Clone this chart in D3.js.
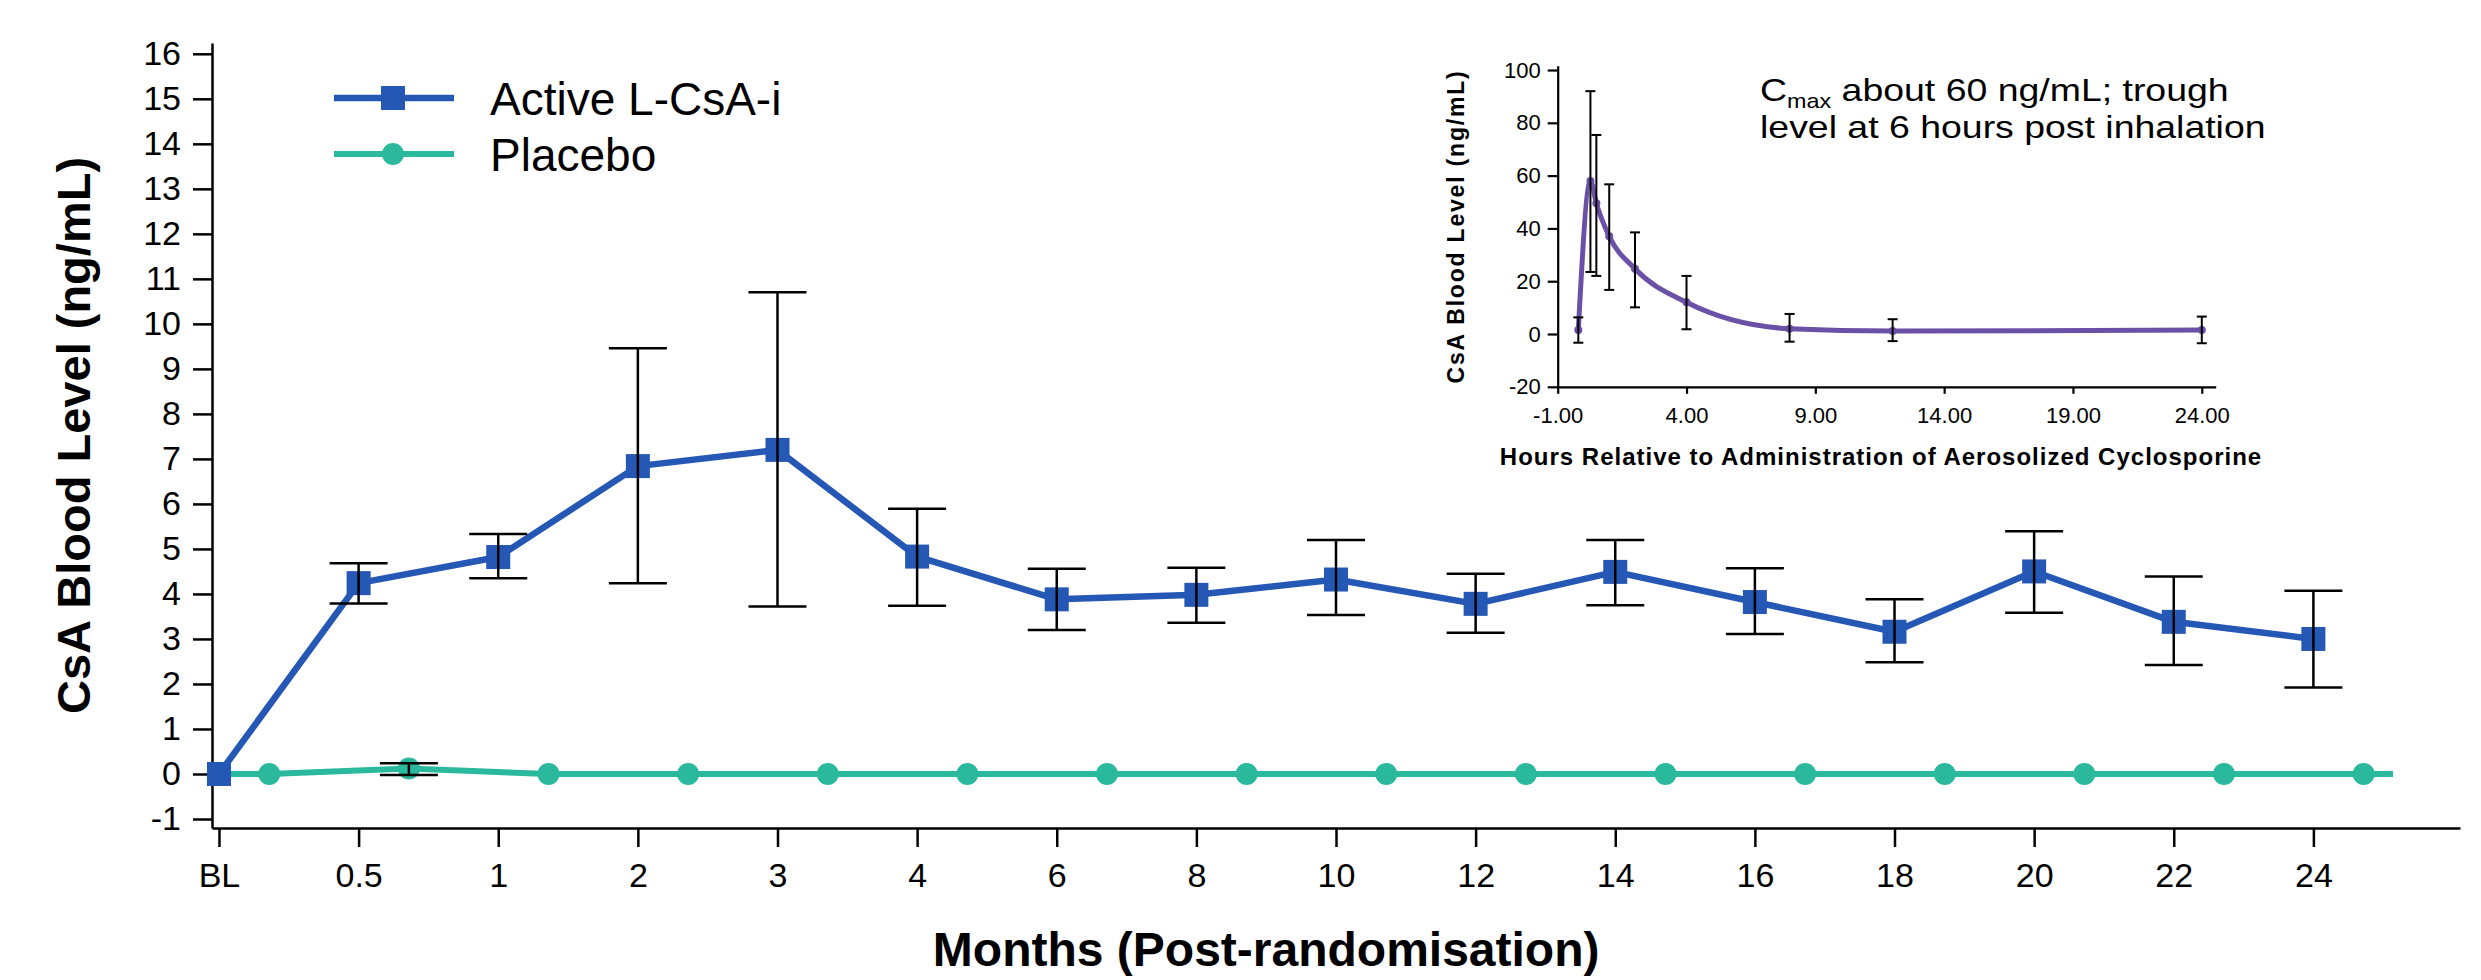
<!DOCTYPE html>
<html>
<head>
<meta charset="utf-8">
<script src="https://cdn.jsdelivr.net/npm/d3@7"></script>
<style>
  body { margin: 0; background: #fff; }
  svg { display: block; font-family: "Liberation Sans", Arial, sans-serif; }
</style>
</head>
<body>
<div id="chart"></div>
<script>
// main chart: months post-randomisation
const months = ["BL", "0.5", "1", "2", "3", "4", "6", "8", "10", "12", "14", "16", "18", "20", "22", "24"];
const activeMean = [0, 4.24, 4.82, 6.84, 7.20, 4.83, 3.88, 3.98, 4.32, 3.78, 4.49, 3.82, 3.16, 4.50, 3.38, 3.00];
const activeLow  = [null, 3.79, 4.35, 4.24, 3.72, 3.74, 3.20, 3.36, 3.53, 3.14, 3.75, 3.11, 2.48, 3.58, 2.42, 1.92];
const activeHigh = [null, 4.68, 5.33, 9.46, 10.70, 5.89, 4.56, 4.58, 5.20, 4.45, 5.20, 4.57, 3.88, 5.39, 4.39, 4.07];
const placeboMean = [0, 0.12, 0, 0, 0, 0, 0, 0, 0, 0, 0, 0, 0, 0, 0, 0];
const placeboLow  = [null, -0.02, null, null, null, null, null, null, null, null, null, null, null, null, null, null];
const placeboHigh = [null, 0.24, null, null, null, null, null, null, null, null, null, null, null, null, null, null];
const placeboShift = 0.36;          // placebo points sit right of the month tick
const placeboLineSpan = [0, 15.57]; // the placebo line runs from BL to past the last point
const yTicks = d3.range(-1, 17);

// inset: PK profile over hours
const pkHours = [-0.2, 0.27, 0.5, 1, 2, 4, 8, 12, 24];
const pkMean  = [1.5, 58, 49.5, 37, 24.7, 12, 2, 1.1, 1.5];
const pkLow   = [-3.3, 23.5, 22, 16.7, 10.1, 1.8, -2.9, -2.7, -3.5];
const pkHigh  = [6.3, 92, 75.4, 56.7, 38.5, 22, 7.6, 5.6, 6.6];
const pkXTicks = [-1, 4, 9, 14, 19, 24];
const pkYTicks = [-20, 0, 20, 40, 60, 80, 100];

const series = ["Active L-CsA-i", "Placebo"];
const blue = "#2557b5", green = "#2bb99e", purple = "#6a50a7";

const width = 2481, height = 980;

const svg = d3.select("#chart").append("svg")
  .attr("width", width)
  .attr("height", height);

svg.append("rect").attr("width", width).attr("height", height).attr("fill", "#fff");

// ---------- main chart ----------
const x = d3.scaleLinear().domain([-0.05, 16.05]).range([212, 2460]);
const y = d3.scaleLinear().domain([-1.2, 16.24]).range([828, 43]);

const xAxis = svg.append("g")
  .attr("transform", `translate(0,${y(-1.2)})`)
  .call(d3.axisBottom(x)
    .tickValues(d3.range(months.length))
    .tickFormat(i => months[i])
    .tickSize(19).tickSizeOuter(0).tickPadding(16));

const yAxis = svg.append("g")
  .attr("transform", `translate(${x(-0.05)},0)`)
  .call(d3.axisLeft(y)
    .tickValues(yTicks)
    .tickFormat(d => String(d))
    .tickSize(19).tickSizeOuter(0).tickPadding(12));

[xAxis, yAxis].forEach(g => {
  g.select(".domain").attr("stroke", "#000").attr("stroke-width", 2.5);
  g.selectAll(".tick line").attr("stroke", "#000").attr("stroke-width", 2.5);
  g.selectAll(".tick text").attr("font-size", 34).attr("fill", "#000")
    .attr("font-family", "Liberation Sans, Arial, sans-serif");
});

svg.append("text")
  .attr("transform", `translate(90,${(153 + 718) / 2}) rotate(-90)`)
  .attr("text-anchor", "middle")
  .attr("font-size", 47).attr("font-weight", "bold")
  .text("CsA Blood Level (ng/mL)");

svg.append("text")
  .attr("x", x(7.5)).attr("y", 966)
  .attr("text-anchor", "middle")
  .attr("font-size", 48).attr("font-weight", "bold")
  .text("Months (Post-randomisation)");

const active = activeMean.map((v, i) => ({ i: i, v: v, lo: activeLow[i], hi: activeHigh[i] }));
const placebo = placeboMean.map((v, i) => ({ i: i + placeboShift, v: v, lo: placeboLow[i], hi: placeboHigh[i] }));

const line = d3.line().x(d => x(d.i)).y(d => y(d.v));

const placeboPath = [{ i: placeboLineSpan[0], v: 0 }].concat(placebo, [{ i: placeboLineSpan[1], v: 0 }]);

svg.append("path")
  .attr("d", line(placeboPath))
  .attr("fill", "none").attr("stroke", green).attr("stroke-width", 6);

svg.append("path")
  .attr("d", line(active))
  .attr("fill", "none").attr("stroke", blue).attr("stroke-width", 6.5)
  .attr("stroke-linejoin", "round");

svg.append("g").selectAll("rect")
  .data(active)
  .join("rect")
    .attr("x", d => x(d.i) - 12)
    .attr("y", d => y(d.v) - 12)
    .attr("width", 24).attr("height", 24)
    .attr("fill", blue);

svg.append("g").selectAll("circle")
  .data(placebo)
  .join("circle")
    .attr("cx", d => x(d.i))
    .attr("cy", d => y(d.v))
    .attr("r", 11)
    .attr("fill", green);

function errorBars(g, data, sx, sy, cap, sw) {
  const eb = g.append("g").attr("stroke", "#000").attr("stroke-width", sw)
    .selectAll("g")
    .data(data.filter(d => d.lo != null))
    .join("g");
  eb.append("line")
    .attr("x1", d => sx(d.i)).attr("x2", d => sx(d.i))
    .attr("y1", d => sy(d.lo)).attr("y2", d => sy(d.hi));
  eb.append("line")
    .attr("x1", d => sx(d.i) - cap / 2).attr("x2", d => sx(d.i) + cap / 2)
    .attr("y1", d => sy(d.hi)).attr("y2", d => sy(d.hi));
  eb.append("line")
    .attr("x1", d => sx(d.i) - cap / 2).attr("x2", d => sx(d.i) + cap / 2)
    .attr("y1", d => sy(d.lo)).attr("y2", d => sy(d.lo));
}

errorBars(svg, active, x, y, 58, 2.5);
errorBars(svg, placebo, x, y, 58, 2.5);

// legend
const legend = svg.append("g").attr("transform", "translate(334,98)");
const item = legend.selectAll("g")
  .data(series)
  .join("g")
    .attr("transform", (d, i) => `translate(0,${i * 56})`);
item.append("line")
  .attr("x1", 0).attr("x2", 120)
  .attr("stroke", (d, i) => i === 0 ? blue : green)
  .attr("stroke-width", (d, i) => i === 0 ? 6.5 : 6);
item.filter((d, i) => i === 0).append("rect")
  .attr("x", 47).attr("y", -12).attr("width", 24).attr("height", 24).attr("fill", blue);
item.filter((d, i) => i === 1).append("circle")
  .attr("cx", 59).attr("r", 11).attr("fill", green);
item.append("text")
  .attr("x", 156).attr("y", 17)
  .attr("font-size", 46)
  .text(d => d);

// ---------- inset ----------
const ix = d3.scaleLinear().domain([-1, 24.54]).range([1557.7, 2215.7]);
const iy = d3.scaleLinear().domain([-20, 101.6]).range([386.8, 65.8]);

const ixAxis = svg.append("g")
  .attr("transform", `translate(0,${iy(-20)})`)
  .call(d3.axisBottom(ix)
    .tickValues(pkXTicks)
    .tickFormat(d => d.toFixed(2))
    .tickSize(7).tickSizeOuter(0).tickPadding(14));

const iyAxis = svg.append("g")
  .attr("transform", `translate(${ix(-1)},0)`)
  .call(d3.axisLeft(iy)
    .tickValues(pkYTicks)
    .tickFormat(d => String(d))
    .tickSize(10).tickSizeOuter(0).tickPadding(7));

[ixAxis, iyAxis].forEach(g => {
  g.select(".domain").attr("stroke", "#000").attr("stroke-width", 2.2);
  g.selectAll(".tick line").attr("stroke", "#000").attr("stroke-width", 2.2);
  g.selectAll(".tick text").attr("font-size", 22).attr("fill", "#000")
    .attr("font-family", "Liberation Sans, Arial, sans-serif");
});

svg.append("text")
  .attr("x", (1492 + 2270) / 2).attr("y", 465)
  .attr("text-anchor", "middle")
  .attr("font-size", 24).attr("font-weight", "bold")
  .attr("letter-spacing", 1)
  .text("Hours Relative to Administration of Aerosolized Cyclosporine");

svg.append("text")
  .attr("transform", `translate(1464,${(70 + 383) / 2}) rotate(-90)`)
  .attr("text-anchor", "middle")
  .attr("font-size", 23).attr("font-weight", "bold")
  .attr("letter-spacing", 1.8)
  .text("CsA Blood Level (ng/mL)");

const pk = pkHours.map((h, k) => ({ i: h, v: pkMean[k], lo: pkLow[k], hi: pkHigh[k] }));

svg.append("path")
  .attr("d", d3.line().x(d => ix(d.i)).y(d => iy(d.v)).curve(d3.curveMonotoneX)(pk))
  .attr("fill", "none").attr("stroke", purple).attr("stroke-width", 5)
  .attr("stroke-linejoin", "round");

svg.append("g").selectAll("circle")
  .data(pk)
  .join("circle")
    .attr("cx", d => ix(d.i)).attr("cy", d => iy(d.v))
    .attr("r", 4).attr("fill", purple);

errorBars(svg, pk, ix, iy, 10, 2);

// annotation, stretched a little in width like the pasted original
const note = svg.append("g")
  .attr("transform", "translate(1760,0) scale(1.17,1)")
  .attr("font-size", 32);
const l1 = note.append("text").attr("x", 0).attr("y", 101);
l1.append("tspan").text("C");
l1.append("tspan").attr("font-size", 20).attr("dy", 7).text("max");
l1.append("tspan").attr("dy", -7).text(" about 60 ng/mL; trough");
note.append("text").attr("x", 0).attr("y", 138).text("level at 6 hours post inhalation");
</script>
</body>
</html>
